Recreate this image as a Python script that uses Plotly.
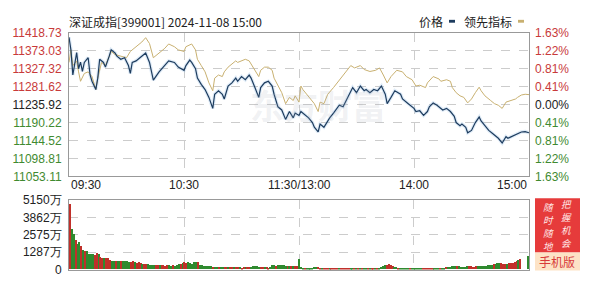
import plotly.graph_objects as go

W, H = 594, 287

# ---------------- data ----------------
price_t = [0,1,2,4,5,6,7,8,10,11,12,14,15,16,18,19,21,22,24,25,27,29,31,32,33,35,37,40,42,44,47,50,52,55,57,60,
           61,63,64,66,67,69,71,73,75,76,78,80,81,83,85,87,88,90,92,94,95,97,99,100,102,104,106,107,109,111,113,115,117,118,120,
           121,123,125,127,128,130,131,133,134,136,138,140,141,143,145,147,148,150,152,154,155,157,159,161,163,165,166,168,170,173,174,177,180,
           181,183,185,187,188,190,192,194,195,197,199,201,202,204,205,207,208,210,212,214,215,217,219,221,222,224,226,228,229,231,233,234,236,238,240]
price_v = [11407,11375,11311,11368,11327,11344,11320,11343,11355,11311,11295,11274,11303,11351,11343,11331,11359,11375,11367,11359,11351,11355,11335,11315,11343,11347,11355,11367,11343,11298,11319,11335,11347,11343,11331,11323,
           11335,11349,11343,11327,11303,11287,11274,11254,11226,11262,11271,11262,11250,11283,11291,11303,11295,11307,11299,11311,11303,11279,11254,11279,11291,11295,11283,11262,11230,11222,11198,11218,11202,11214,11208,
           11218,11210,11202,11190,11178,11166,11186,11178,11186,11202,11214,11226,11234,11230,11250,11271,11279,11266,11283,11271,11274,11266,11274,11271,11283,11262,11238,11254,11271,11262,11250,11238,11226,
           11218,11220,11208,11218,11230,11240,11234,11226,11222,11226,11218,11206,11190,11182,11186,11178,11164,11170,11190,11204,11194,11182,11170,11162,11158,11150,11138,11154,11150,11155,11158,11162,11166,11167,11164]

lead_t = [0,1,2,4,5,6,8,10,12,14,15,17,19,22,24,27,30,32,35,38,40,42,44,47,50,52,55,57,60,
          61,64,66,67,69,71,73,75,76,78,80,81,83,85,87,88,90,92,94,95,97,99,100,102,104,106,107,109,111,113,115,117,118,120,
          121,122,124,126,128,130,131,133,135,138,140,142,145,147,149,152,154,157,160,162,164,166,168,171,174,176,179,
          181,183,186,187,190,193,194,197,199,200,202,204,206,208,210,212,214,215,217,220,222,224,226,228,230,233,234,236,238,240]
lead_v = [11343,11375,11335,11347,11319,11295,11315,11319,11307,11274,11303,11343,11335,11371,11363,11359,11355,11371,11383,11395,11406,11391,11355,11367,11379,11390,11383,11375,11371,
          11383,11390,11375,11351,11335,11319,11291,11271,11303,11311,11307,11319,11331,11339,11347,11343,11347,11351,11347,11339,11323,11307,11323,11331,11331,11323,11303,11283,11266,11238,11254,11246,11258,11242,
          11283,11274,11262,11250,11238,11218,11242,11238,11262,11279,11291,11303,11323,11335,11329,11335,11325,11320,11323,11329,11311,11291,11307,11323,11319,11307,11299,
          11283,11285,11279,11291,11307,11301,11295,11299,11295,11279,11266,11258,11254,11240,11250,11266,11280,11271,11258,11246,11238,11234,11226,11242,11245,11250,11254,11260,11262,11261]

# volume per minute (万), 241 minutes
volume = [4850,3000,2600,2200,1880,2000,1720,1420,1400,1360,
          1180,1140,1130,1100,1200,1120,900,880,840,870,
          860,700,660,650,640,650,640,620,600,640,
          620,580,560,620,520,480,560,450,420,400,
          380,410,350,330,360,330,300,350,320,300,
          290,310,300,280,300,290,360,400,420,480,
          540,500,520,480,420,560,560,540,360,300,
          280,260,250,240,220,200,210,190,200,180,
          170,180,190,170,160,150,180,170,160,150,
          140,150,160,170,180,190,260,240,220,200,
          180,160,170,150,140,160,300,320,280,340,
          360,300,320,280,260,280,250,230,220,240,
          780,150,140,120,130,110,120,140,200,180,
          160,130,120,110,100,110,120,100,90,110,
          100,90,100,110,120,100,90,100,110,100,
          90,100,110,120,100,110,90,100,120,110,
          100,120,140,160,250,300,340,380,300,260,
          200,150,140,120,110,100,120,110,100,120,
          110,100,110,120,110,100,90,110,120,100,
          110,120,110,100,120,130,140,150,160,200,
          240,260,280,250,230,210,200,190,230,250,
          220,200,210,230,250,260,240,220,250,300,
          320,360,400,420,460,480,450,420,400,430,
          450,470,500,540,600,680,760,0,0,0,1010]
vol_dir = ("rggrggrgrg" "gggrrgrrgr" "rrggrggrgg" "ggrrgrrrgr" "rggggrrgrr"
           "rrggrgggrg" "rrgggggrgg" "gggggrggrg" "grrgrrgrrg" "rrgrrggggg"
           "rrgrrgggrg" "ggggrgrgrr" "gggrgggggg" "rrgrrrgrrr" "rgrrrrrggr"
           "grgrggrgrr" "grggggrrrr" "ggrgggggrg" "gggggrrrrr" "rgggrggrgg"
           "gggrgggggr" "rrrrgggggg" "ggrgggrrrg" "rrrrrgrgggg")

y_ticks = [11053.11, 11098.81, 11144.52, 11190.22, 11235.92, 11281.62, 11327.32, 11373.03, 11418.73]
y_text = ["11053.11", "11098.81", "11144.52", "11190.22", "11235.92", "11281.62", "11327.32", "11373.03", "11418.73"]
pct_text = ["1.63%", "1.22%", "0.81%", "0.41%", "0.00%", "0.41%", "0.81%", "1.22%", "1.63%"]
vol_ticks = [0, 1287.5, 2575, 3862.5, 5150]
vol_text = ["0", "1287万", "2575万", "3862万", "5150万"]
x_ticks = [0, 60, 120, 180, 240]
x_text = ["09:30", "10:30", "11:30/13:00", "14:00", "15:00"]

RED = "#c83a3a"
GREEN = "#3f8a30"
NAVY = "#1d3c5e"
GOLD = "#c8b070"

def px_x(p):
    return p / W

def px_y(p):
    return 1 - p / H

def color_label(txt, i):
    if i > 4:
        c = RED
    elif i < 4:
        c = GREEN
    else:
        c = "#222"
    return f"<span style='color:{c}'>{txt}</span>"

fig = go.Figure()

fig.add_trace(go.Scatter(x=price_t, y=price_v, mode="lines", xaxis="x", yaxis="y",
                         line=dict(color="rgba(150,190,230,0.3)", width=3.5), hoverinfo="skip", showlegend=False))
fig.add_trace(go.Scatter(x=lead_t, y=lead_v, mode="lines", xaxis="x", yaxis="y",
                         line=dict(color=GOLD, width=1), name="领先指标", showlegend=False))
fig.add_trace(go.Scatter(x=price_t, y=price_v, mode="lines", xaxis="x", yaxis="y",
                         line=dict(color=NAVY, width=1.2), name="价格", showlegend=False))
# invisible trace for right axis
fig.add_trace(go.Scatter(x=[0, 240], y=[y_ticks[0], y_ticks[-1]], mode="lines", xaxis="x", yaxis="y3",
                         line=dict(color="rgba(0,0,0,0)"), hoverinfo="skip", showlegend=False))

bar_colors = ["#c0302a" if d == "r" else "#2f8a2f" for d in vol_dir]
fig.add_trace(go.Bar(x=list(range(len(volume))), y=volume, xaxis="x2", yaxis="y2",
                     marker=dict(color=bar_colors, line=dict(width=0)), width=0.55, showlegend=False))

x0, x1 = px_x(69), px_x(529)
grid = dict(showgrid=True, gridcolor="#cccccc", griddash="dash", gridwidth=1)
border = dict(showline=True, linecolor="#999999", linewidth=1, mirror=True, zeroline=False)
axfont = dict(family="Liberation Sans, Arial, sans-serif", size=12, color="#222")

fig.update_layout(
    width=W, height=H, margin=dict(l=0, r=0, t=0, b=0),
    paper_bgcolor="white", plot_bgcolor="white", bargap=0,
    xaxis=dict(domain=[x0, x1], range=[0, 240], anchor="y", tickvals=x_ticks, showticklabels=False, ticks="", **grid, **border),
    yaxis=dict(domain=[px_y(178), px_y(27)], range=[y_ticks[0], y_ticks[-1]], tickvals=y_ticks,
               ticktext=[color_label(t, i) for i, t in enumerate(y_text)], ticks="", tickfont=axfont,
               ticklabelstandoff=4, **grid, **border),
    yaxis3=dict(overlaying="y", side="right", anchor="x", range=[y_ticks[0], y_ticks[-1]], tickvals=y_ticks,
                ticktext=[color_label(t, i) for i, t in enumerate(pct_text)], ticks="", tickfont=axfont,
                ticklabelstandoff=5, showgrid=False, zeroline=False, showline=False),
    xaxis2=dict(domain=[x0, x1], range=[-0.5, 240.5], anchor="y2", tickvals=[60, 120, 180], showticklabels=False, ticks="", **grid, **border),
    yaxis2=dict(domain=[px_y(276), px_y(203)], range=[0, 5150], tickvals=vol_ticks, ticktext=vol_text, ticks="",
                tickfont=axfont, ticklabelstandoff=4, **grid, **border),
)

ann = []
anchors = ["left", "center", "center", "center", "right"]
for t, s, a in zip(x_ticks, x_text, anchors):
    ann.append(dict(x=t, y=px_y(187), xref="x", yref="paper", text=s, showarrow=False, xanchor=a, yanchor="middle",
                    font=dict(family="Liberation Sans, Arial, sans-serif", size=12, color="#222")))
ann.append(dict(x=px_x(67), y=px_y(15), xref="paper", yref="paper", text="深证成指[399001] 2024-11-08 15:00",
                showarrow=False, xanchor="left", yanchor="middle",
                font=dict(family="Noto Sans CJK SC, sans-serif", size=12, color="#222")))
ann.append(dict(x=px_x(417), y=px_y(15), xref="paper", yref="paper", text="价格", showarrow=False,
                xanchor="left", yanchor="middle", font=dict(family="Noto Sans CJK SC, sans-serif", size=12, color="#222")))
ann.append(dict(x=px_x(462), y=px_y(15), xref="paper", yref="paper", text="领先指标", showarrow=False,
                xanchor="left", yanchor="middle", font=dict(family="Noto Sans CJK SC, sans-serif", size=12, color="#222")))
# watermark
ann.append(dict(x=px_x(318), y=px_y(103), xref="paper", yref="paper", text="<b>东方财富</b>", showarrow=False,
                xanchor="center", yanchor="middle", font=dict(family="Noto Sans CJK SC, sans-serif", size=34,
                                                               color="rgba(170,175,185,0.18)")))
# ad box text, one character per annotation
for col_x, chars, y0 in [(548, "随时随地", 210.5), (566, "把握机会", 207.5)]:
    for k, ch in enumerate(chars):
        ann.append(dict(x=px_x(col_x), y=px_y(y0 + k * 13.5), xref="paper", yref="paper", text=f"<i>{ch}</i>",
                        showarrow=False, xanchor="center", yanchor="middle", borderpad=0, borderwidth=0,
                        font=dict(family="Noto Sans CJK SC, sans-serif", size=9.5, color="#ffe6e6")))
ann.append(dict(x=px_x(557), y=px_y(268), xref="paper", yref="paper", text="手机版", showarrow=False,
                xanchor="center", yanchor="middle", font=dict(family="Noto Sans CJK SC, sans-serif", size=12, color="#d83a3a")))
fig.update_layout(annotations=ann)

shapes = [
    dict(type="rect", xref="paper", yref="paper", x0=px_x(449), x1=px_x(455), y0=px_y(16.5), y1=px_y(13.5),
         fillcolor=NAVY, line=dict(width=0)),
    dict(type="rect", xref="paper", yref="paper", x0=px_x(518), x1=px_x(524), y0=px_y(16.5), y1=px_y(13.5),
         fillcolor=GOLD, line=dict(width=0)),
    dict(type="rect", xref="paper", yref="paper", x0=px_x(535), x1=px_x(580), y0=px_y(258), y1=px_y(201),
         fillcolor="#e63b3b", line=dict(width=0)),
    dict(type="rect", xref="paper", yref="paper", x0=px_x(535), x1=px_x(580), y0=px_y(277), y1=px_y(258),
         fillcolor="#fde3c6", line=dict(width=0)),
]
fig.update_layout(shapes=shapes)

fig.write_html("out.html")
